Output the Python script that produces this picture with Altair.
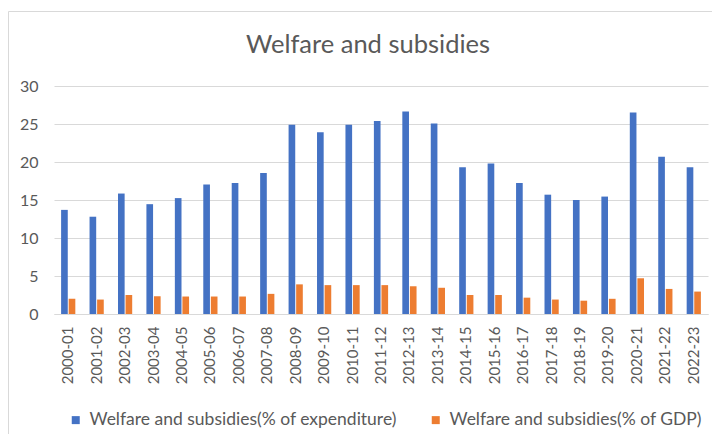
import altair as alt
import pandas as pd

years = ["2000-01", "2001-02", "2002-03", "2003-04", "2004-05", "2005-06", "2006-07",
         "2007-08", "2008-09", "2009-10", "2010-11", "2011-12", "2012-13", "2013-14",
         "2014-15", "2015-16", "2016-17", "2017-18", "2018-19", "2019-20", "2020-21",
         "2021-22", "2022-23"]
pct_expenditure = [13.7, 12.8, 15.85, 14.45, 15.25, 17.05, 17.25, 18.55, 24.9, 23.9, 24.9,
                   25.4, 26.65, 25.05, 19.3, 19.8, 17.25, 15.7, 15.0, 15.45, 26.5, 20.7, 19.3]
pct_gdp = [2.0, 1.9, 2.5, 2.35, 2.3, 2.3, 2.3, 2.65, 3.9, 3.8, 3.8,
           3.8, 3.65, 3.45, 2.5, 2.5, 2.15, 1.9, 1.75, 2.0, 4.7, 3.3, 2.95]
series = ["Welfare and subsidies(% of expenditure)", "Welfare and subsidies(% of GDP)"]
colors = ["#4472C4", "#ED7D31"]
y_ticks = [0, 5, 10, 15, 20, 25, 30]
chart_title = "Welfare and subsidies"

rows = []
for i, yr in enumerate(years):
    rows.append({"year": yr, "series": series[0], "value": pct_expenditure[i]})
    rows.append({"year": yr, "series": series[1], "value": pct_gdp[i]})
df = pd.DataFrame(rows)

TEXT = "#595959"
GRID = "#D9D9D9"
FONT = "Lato"

bars = alt.Chart(df).mark_bar().encode(
    x=alt.X("year:N", sort=years, title=None,
            scale=alt.Scale(paddingInner=0.5, paddingOuter=0.25),
            axis=alt.Axis(labelAngle=270, labelFont=FONT, labelFontSize=15,
                          labelColor=TEXT, ticks=False, domainColor=GRID,
                          domainWidth=1, labelPadding=12, grid=False)),
    xOffset=alt.XOffset("series:N", sort=series,
                        scale=alt.Scale(paddingInner=0.12)),
    y=alt.Y("value:Q", title=None,
            scale=alt.Scale(domain=[0, 30], nice=False),
            axis=alt.Axis(values=y_ticks, labelFont=FONT, labelFontSize=16,
                          labelColor=TEXT, ticks=False, domain=False,
                          gridColor=GRID, gridWidth=1, labelPadding=16)),
    color=alt.Color("series:N", sort=series,
                    scale=alt.Scale(domain=series, range=colors),
                    legend=alt.Legend(title=None, orient="none", direction="horizontal",
                                      legendX=13, legendY=325,
                                      symbolType="square", symbolSize=64,
                                      symbolStrokeWidth=0,
                                      labelFont=FONT, labelFontSize=17.5,
                                      labelColor=TEXT, labelOffset=5,
                                      labelLimit=1000,
                                      columnPadding=30)),
)

frame = alt.Chart(pd.DataFrame({"a": [1]})).mark_rect(
    fillOpacity=0, stroke=GRID, strokeWidth=1
).encode(
    x=alt.value(-45.5), x2=alt.value(720),
    y=alt.value(-74.5), y2=alt.value(420),
)

title_text = alt.Chart(pd.DataFrame({"t": [chart_title]})).mark_text(
    font=FONT, fontSize=25.5, color=TEXT, align="center", baseline="alphabetic"
).encode(
    text="t:N", x=alt.value(314), y=alt.value(-33),
)

chart = alt.layer(frame, bars, title_text).properties(
    width=654, height=228,
    autosize=alt.AutoSizeParams(type="none"),
    padding={"left": 46, "top": 78, "right": 4, "bottom": 120},
).configure_view(stroke=None)

chart.save("out.html", embed_options={"renderer": "svg", "actions": False})
